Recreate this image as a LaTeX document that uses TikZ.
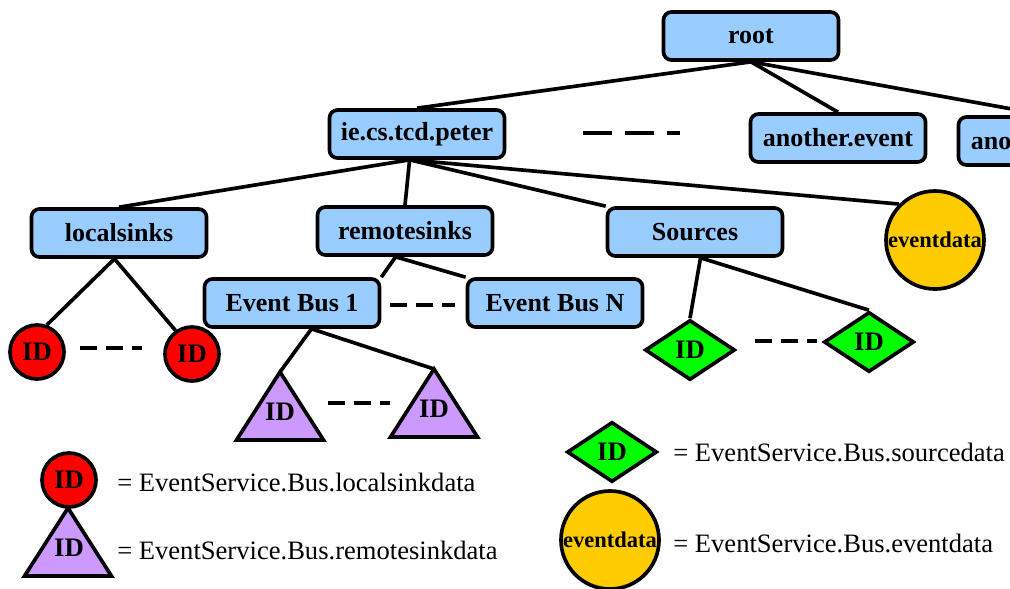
\documentclass[tikz,border=0pt]{standalone}
\usepackage{fontspec}
\setmainfont{Liberation Serif}
\usetikzlibrary{shapes.geometric}
\definecolor{boxblue}{HTML}{99CCFF}
\definecolor{sinkred}{HTML}{FF0000}
\definecolor{remotelilac}{HTML}{CC99FF}
\definecolor{srcgreen}{HTML}{00FF00}
\definecolor{datagold}{HTML}{FFCC00}
\begin{document}
\begin{tikzpicture}[x=0.025cm, y=-0.025cm,
    keybox/.style={draw, line width=2.6pt, rounded corners=0.2cm, fill=boxblue,
      minimum width=4.375cm, minimum height=1.2cm, inner sep=2pt,
      font=\fontsize{18.5}{20}\selectfont\bfseries},
    idtext/.style={inner sep=0pt, font=\fontsize{19}{20}\selectfont\bfseries},
    sinkdot/.style={circle, draw, line width=2.6pt, fill=sinkred,
      minimum size=1.35cm, inner sep=0pt, idtext},
    remotetri/.style={isosceles triangle, isosceles triangle stretches,
      shape border rotate=90, draw, line width=2.6pt, fill=remotelilac,
      minimum width=2.175cm, minimum height=1.7cm, inner sep=0pt, outer sep=0pt},
    srcdia/.style={diamond, draw, line width=2.6pt, fill=srcgreen,
      minimum width=2.25cm, minimum height=1.5cm, inner sep=0pt, idtext},
    datadisc/.style={circle, draw, line width=2.6pt, fill=datagold,
      minimum size=2.45cm, inner sep=0pt, font=\fontsize{16}{17}\selectfont\bfseries},
    link/.style={line width=2.6pt},
    gap/.style={line width=3pt, dash pattern=on 12pt off 6.4pt},
    legend/.style={anchor=west, inner sep=0pt, font=\fontsize{18.9}{20}\selectfont}]
        \useasboundingbox (0,0) rectangle (1010,588);
        \clip (0,0) rectangle (1010,588);

        % Event name tree
        \node[keybox] (root) at (751,36) {root};
        \node[keybox] (peter) at (417,134) {ie.cs.tcd.peter};
        \node[keybox] (another) at (838,138) {another.event};
        \node[keybox] (anothertoo) at (1046,141) {another.event};
        \draw[gap, dash pattern=on 20.5pt off 9.2pt] (583,133) -- (680,133);

        % Subtrees of one event
        \node[keybox] (localsinks) at (119,233) {localsinks};
        \node[keybox] (remotesinks) at (405,231) {remotesinks};
        \node[keybox] (sources) at (695,232) {Sources};
        \node[datadisc] (eventdata) at (935,240) {eventdata};

        \node[sinkdot] (localA) at (37,352) {ID};
        \node[sinkdot] (localB) at (192,354) {ID};
        \draw[gap] (80,348) -- (142,348);

        \node[keybox] (busone) at (292,303) {Event Bus 1};
        \node[keybox] (busN) at (555,303) {Event Bus N};
        \draw[gap] (390,305) -- (455,305);

        \node[remotetri, anchor=apex] (remoteA) at (280,372) {};
        \node[idtext] (remoteAid) at (280,412) {ID};
        \node[remotetri, anchor=apex] (remoteB) at (434,369) {};
        \node[idtext] (remoteBid) at (434,409) {ID};
        \draw[gap] (328,403) -- (390,403);

        \node[srcdia] (sourceA) at (690,350) {ID};
        \node[srcdia] (sourceB) at (869,342) {ID};
        \draw[gap] (755,341) -- (817,341);

        % Links
        \draw[link] (root.south) -- (peter.north);
        \draw[link] (root.south) -- (another.north);
        \draw[link] (root.south) -- (anothertoo.north);
        \draw[link] (peter.-106) -- (localsinks.north);
        \draw[link] (peter.-106) -- (remotesinks.north);
        \draw[link] (peter.-106) -- (sources.north west);
        \draw[link] (peter.-106) -- (eventdata.north west);
        \draw[link] (localsinks.-100) -- (localA.70);
        \draw[link] (localsinks.-100) -- (localB.125);
        \draw[link] (remotesinks.-110) -- (busone.north east);
        \draw[link] (remotesinks.-110) -- (busN.north west);
        \draw[link] (busone.-53) -- (remoteA.apex);
        \draw[link] (busone.-53) -- (remoteB.apex);
        \draw[link] (sources.-78) -- (sourceA.north);
        \draw[link] (sources.-78) -- (sourceB.north);

        % Legend
        \node[sinkdot] (keylocal) at (69,480) {ID};
        \node[legend] (keylocaltext) at (117,482) {= EventService.Bus.localsinkdata};
        \node[remotetri, anchor=apex] (keyremote) at (68,508) {};
        \node[idtext] (keyremoteid) at (69,548) {ID};
        \node[legend] (keyremotetext) at (117,550) {= EventService.Bus.remotesinkdata};
        \node[srcdia] (keysource) at (612,452) {ID};
        \node[legend] (keysourcetext) at (673,452) {= EventService.Bus.sourcedata};
        \node[datadisc] (keydata) at (610,540) {eventdata};
        \node[legend] (keydatatext) at (673,543) {= EventService.Bus.eventdata};
\end{tikzpicture}
\end{document}
